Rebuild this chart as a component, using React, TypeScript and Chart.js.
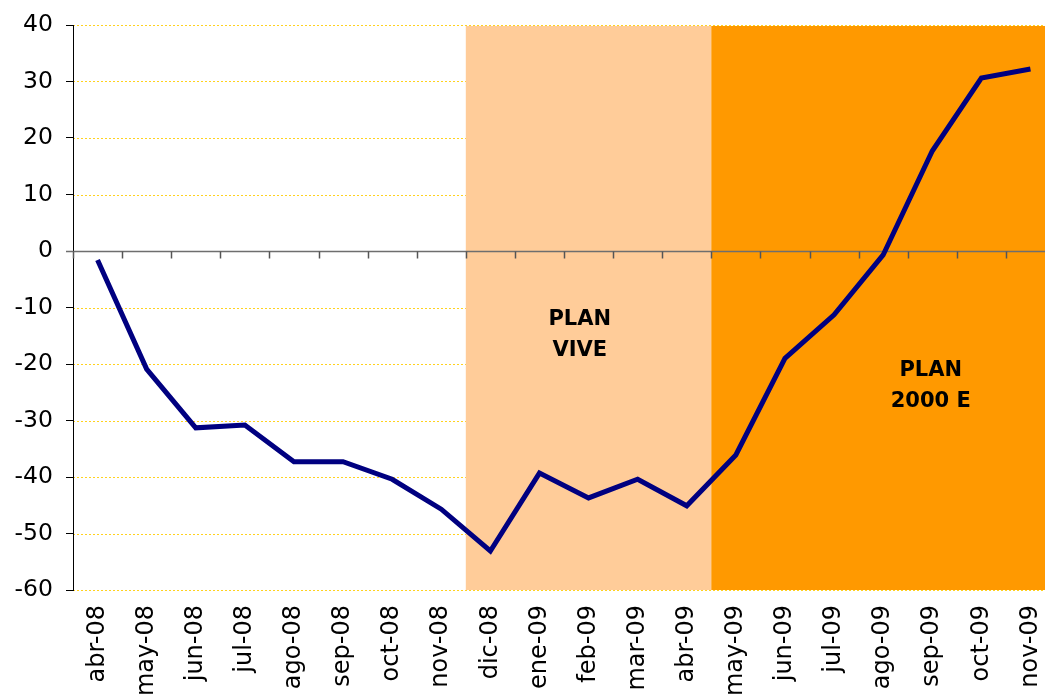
import React, { useEffect, useRef } from "react";
import { Chart, registerables } from "chart.js";

Chart.register(...registerables);

const categories = [
  "abr-08", "may-08", "jun-08", "jul-08", "ago-08", "sep-08", "oct-08", "nov-08",
  "dic-08", "ene-09", "feb-09", "mar-09", "abr-09", "may-09", "jun-09", "jul-09",
  "ago-09", "sep-09", "oct-09", "nov-09",
];

const values = [
  -1.6, -20.9, -31.3, -30.8, -37.3, -37.3, -40.4, -45.7,
  -53.1, -39.3, -43.7, -40.4, -45.1, -36.1, -19.0, -11.3,
  -0.7, 17.7, 30.6, 32.2,
];

const yMin = -60;
const yMax = 40;
const yStep = 10;

// shaded periods: [first category, last category]
const vivePeriod = ["dic-08", "abr-09"];
const e2000Period = ["may-09", "nov-09"];

const FONT = "'DejaVu Sans', Verdana, sans-serif";
const CANVAS_W = 1060;

const decorPlugin = {
  id: "decor",
  beforeDraw(chart: any) {
    const { ctx, chartArea, scales } = chart;
    const x = scales.x;
    const y = scales.y;
    const half = (x.getPixelForValue(1) - x.getPixelForValue(0)) / 2;
    ctx.save();
    // dotted grid lines
    ctx.strokeStyle = "#FFD21F";
    ctx.lineWidth = 1;
    ctx.setLineDash([2, 2]);
    for (let v = yMin; v <= yMax; v += yStep) {
      if (v === 0) continue;
      const py = Math.round(y.getPixelForValue(v)) + 0.5;
      ctx.beginPath();
      ctx.moveTo(chartArea.left, py);
      ctx.lineTo(chartArea.right, py);
      ctx.stroke();
    }
    ctx.setLineDash([]);
    const shade = (period: string[], color: string) => {
      const a = x.getPixelForValue(categories.indexOf(period[0])) - half;
      const b = x.getPixelForValue(categories.indexOf(period[1])) + half;
      ctx.fillStyle = color;
      ctx.fillRect(a, chartArea.top + 1, b - a, chartArea.bottom - chartArea.top - 1);
    };
    shade(vivePeriod, "#FFCC99");
    shade(e2000Period, "#FF9900");
    ctx.restore();
  },
  beforeDatasetsDraw(chart: any) {
    const { ctx, chartArea, scales } = chart;
    const x = scales.x;
    const y = scales.y;
    const half = (x.getPixelForValue(1) - x.getPixelForValue(0)) / 2;
    const y0 = Math.round(y.getPixelForValue(0)) + 0.5;
    ctx.save();
    ctx.strokeStyle = "#6E6E6E";
    ctx.lineWidth = 1.5;
    ctx.beginPath();
    ctx.moveTo(chartArea.left - 7, y0);
    ctx.lineTo(chartArea.right, y0);
    ctx.stroke();
    ctx.strokeStyle = "#555555";
    ctx.lineWidth = 1.5;
    for (let i = 0; i <= categories.length; i++) {
      const px = Math.round(x.getPixelForValue(i) - half) + 0.5;
      ctx.beginPath();
      ctx.moveTo(px, y0);
      ctx.lineTo(px, y0 + 7);
      ctx.stroke();
    }
    ctx.restore();
  },
  afterDatasetsDraw(chart: any) {
    const { ctx, scales } = chart;
    const x = scales.x;
    const y = scales.y;
    ctx.save();
    ctx.fillStyle = "#000000";
    ctx.font = `bold 21px ${FONT}`;
    ctx.textAlign = "center";
    ctx.textBaseline = "middle";
    const labelVive = ["PLAN", "VIVE"];
    const labelE = ["PLAN", "2000 E"];
    labelVive.forEach((t, i) => {
      ctx.fillText(t, x.getPixelForValue(9.82), y.getPixelForValue(-12.2) + i * 31);
    });
    labelE.forEach((t, i) => {
      ctx.fillText(t, x.getPixelForValue(16.97), y.getPixelForValue(-21.1) + i * 31);
    });
    ctx.restore();
  },
};

export default function App() {
  const ref = useRef<HTMLCanvasElement>(null);
  useEffect(() => {
    if (!ref.current) return;
    const chart = new Chart(ref.current, {
      type: "line",
      data: {
        labels: categories,
        datasets: [
          {
            data: values,
            borderColor: "#000080",
            borderWidth: 5,
            pointRadius: 0,
            tension: 0,
            fill: false,
          },
        ],
      },
      options: {
        responsive: false,
        animation: false,
        devicePixelRatio: 1,
        layout: { padding: { left: 0, top: 25, right: 5, bottom: 0 } },
        plugins: { legend: { display: false }, tooltip: { enabled: false } },
        scales: {
          x: {
            type: "category",
            offset: true,
            grid: { display: false, drawTicks: false },
            border: { display: false },
            ticks: {
              autoSkip: false,
              maxRotation: 90,
              minRotation: 90,
              padding: 15,
              color: "#000",
              font: { family: FONT, size: 24 },
            },
            afterFit(scale: any) {
              scale.height = 107;
              scale.paddingLeft = 0;
              scale.paddingRight = 0;
            },
          },
          y: {
            min: yMin,
            max: yMax,
            grid: {
              drawOnChartArea: false,
              drawTicks: true,
              tickLength: 7,
              tickColor: "#000",
              color: "#000",
            },
            border: { display: true, color: "#000", width: 1 },
            ticks: {
              stepSize: yStep,
              padding: 13,
              color: "#000",
              font: { family: FONT, size: 23.5 },
            },
            afterFit(scale: any) {
              scale.width = 73;
              scale.paddingTop = 0;
              scale.paddingBottom = 0;
            },
          },
        },
      },
      plugins: [decorPlugin],
    });
    return () => chart.destroy();
  }, []);
  return (
    <div style={{ position: "fixed", left: 0, top: 0, width: CANVAS_W, height: 697, background: "#fff" }}>
      <canvas ref={ref} width={CANVAS_W} height={697} style={{ display: "block" }} />
    </div>
  );
}
